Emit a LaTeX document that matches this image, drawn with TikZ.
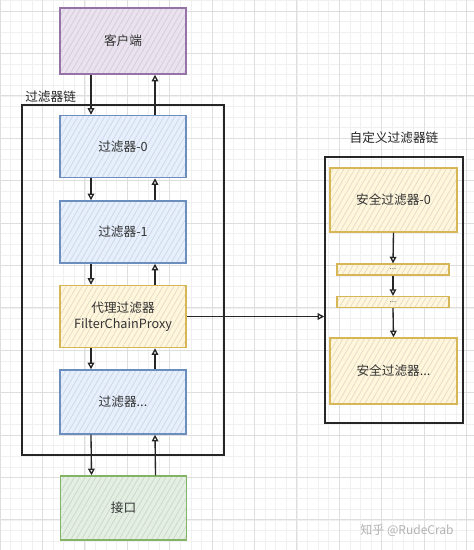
\documentclass[tikz,border=0pt]{standalone}
\usepackage{fontspec}
\setmainfont{Noto Sans CJK SC}
\usetikzlibrary{arrows.meta,patterns.meta}

\definecolor{purplefill}{HTML}{E1D5E7}
\definecolor{purpleline}{HTML}{9673A6}
\definecolor{bluefill}{HTML}{DAE8FC}
\definecolor{blueline}{HTML}{6C8EBF}
\definecolor{yellowfill}{HTML}{FFF2CC}
\definecolor{yellowline}{HTML}{D6B656}
\definecolor{greenfill}{HTML}{D5E8D4}
\definecolor{greenline}{HTML}{82B366}

\tikzset{
  box/.style={draw, line width=1.1pt, minimum width=94.5pt, minimum height=46.5pt,
    inner sep=2pt, align=center, text=black!80, font=\fontsize{9.5}{12}\selectfont},
  hatch/.style={preaction={fill=#1!70!white},
    preaction={pattern={Lines[angle=60,distance=3.5pt,line width=0.5pt]}, pattern color=#1!80!black!60}},
  clientbox/.style={box, hatch=purplefill, draw=purpleline},
  filterbox/.style={box, hatch=bluefill, draw=blueline},
  proxybox/.style={box, hatch=yellowfill, draw=yellowline},
  apibox/.style={box, hatch=greenfill, draw=greenline},
  secbox/.style={box, hatch=yellowfill, draw=yellowline, minimum width=95pt},
  barbox/.style={draw=yellowline, line width=1.1pt, hatch=yellowfill, minimum width=84pt,
    minimum height=8pt, inner sep=0pt, text=black!60, font=\fontsize{6}{6}\selectfont},
  chain/.style={draw=black!85, line width=1.1pt},
  arr/.style={-{Triangle[open,length=5pt,width=5pt]}, line width=1pt, black!85},
  title/.style={text=black!85, font=\fontsize{9.5}{12}\selectfont, inner sep=0pt}
}

\begin{document}
\begin{tikzpicture}[x=0.75pt, y=-0.75pt]

    \useasboundingbox (0,0) rectangle (474,550);
    \fill[white] (0,0) rectangle (474,550);

    % grid
    \foreach \i in {0,...,44} {
        \draw[black!6, line width=0.3pt] (\i*10.6,0) -- (\i*10.6,550);
    }
    \foreach \j in {-1,...,51} {
        \draw[black!6, line width=0.3pt] (0,11+\j*10.6) -- (474,11+\j*10.6);
    }
    \foreach \i in {0,...,11} {
        \draw[black!13, line width=0.5pt] (\i*42.4,0) -- (\i*42.4,550);
    }
    \foreach \j in {0,...,12} {
        \draw[black!13, line width=0.5pt] (0,11+\j*42.4) -- (474,11+\j*42.4);
    }

    % filter chain
    \node[title, anchor=base west] (chainlabel) at (25,101) {过滤器链};
    \draw[chain] (22,105) rectangle (224,455);

    \node[clientbox, minimum height=49.5pt] (client) at (123,41) {客户端};
    \node[filterbox] (f0) at (123,146.5) {过滤器-0};
    \node[filterbox] (f1) at (123,232) {过滤器-1};
    \node[proxybox] (proxy) at (123,316.5) {代理过滤器\\FilterChainProxy};
    \node[filterbox, minimum height=48pt] (fn) at (123,402) {过滤器...};
    \node[apibox, minimum height=48pt] (api) at (123.5,508) {接口};

    \draw[arr] ([xshift=-24pt]client.south) -- ([xshift=-24pt]f0.north);
    \draw[arr] ([xshift=24pt]f0.north) -- ([xshift=24pt]client.south);
    \draw[arr] ([xshift=-24pt]f0.south) -- ([xshift=-24pt]f1.north);
    \draw[arr] ([xshift=24pt]f1.north) -- ([xshift=24pt]f0.south);
    \draw[arr] ([xshift=-24pt]f1.south) -- ([xshift=-24pt]proxy.north);
    \draw[arr] ([xshift=24pt]proxy.north) -- ([xshift=24pt]f1.south);
    \draw[arr] ([xshift=-24pt]proxy.south) -- ([xshift=-24pt]fn.north);
    \draw[arr] ([xshift=24pt]fn.north) -- ([xshift=24pt]proxy.south);
    \draw[arr] ([xshift=-24pt]fn.south) -- ([xshift=-24pt]api.north);
    \draw[arr] ([xshift=24pt]api.north) -- ([xshift=24pt]fn.south);

    % custom filter chain
    \node[title, anchor=base] (customlabel) at (394,142) {自定义过滤器链};
    \node[chain, minimum width=103.5pt, minimum height=199.5pt, inner sep=0pt] (custom) at (394,290) {};

    \node[secbox, minimum height=48pt] (s0) at (393.5,200) {安全过滤器-0};
    \node[barbox] (bar1) at (393,269.5) {...};
    \node[barbox] (bar2) at (393,302) {...};
    \node[secbox, minimum height=49.5pt] (sn) at (393.5,371) {安全过滤器...};

    \draw[arr] (s0.south) -- (bar1.north);
    \draw[arr] (bar1.south) -- (bar2.north);
    \draw[arr] (bar2.south) -- (sn.north);

    \draw[arr] (proxy.east) -- (proxy.east -| custom.west);

    \node[text=black!30, font=\fontsize{9}{11}\selectfont] (mark) at (407,530) {知乎 @RudeCrab};

\end{tikzpicture}
\end{document}
